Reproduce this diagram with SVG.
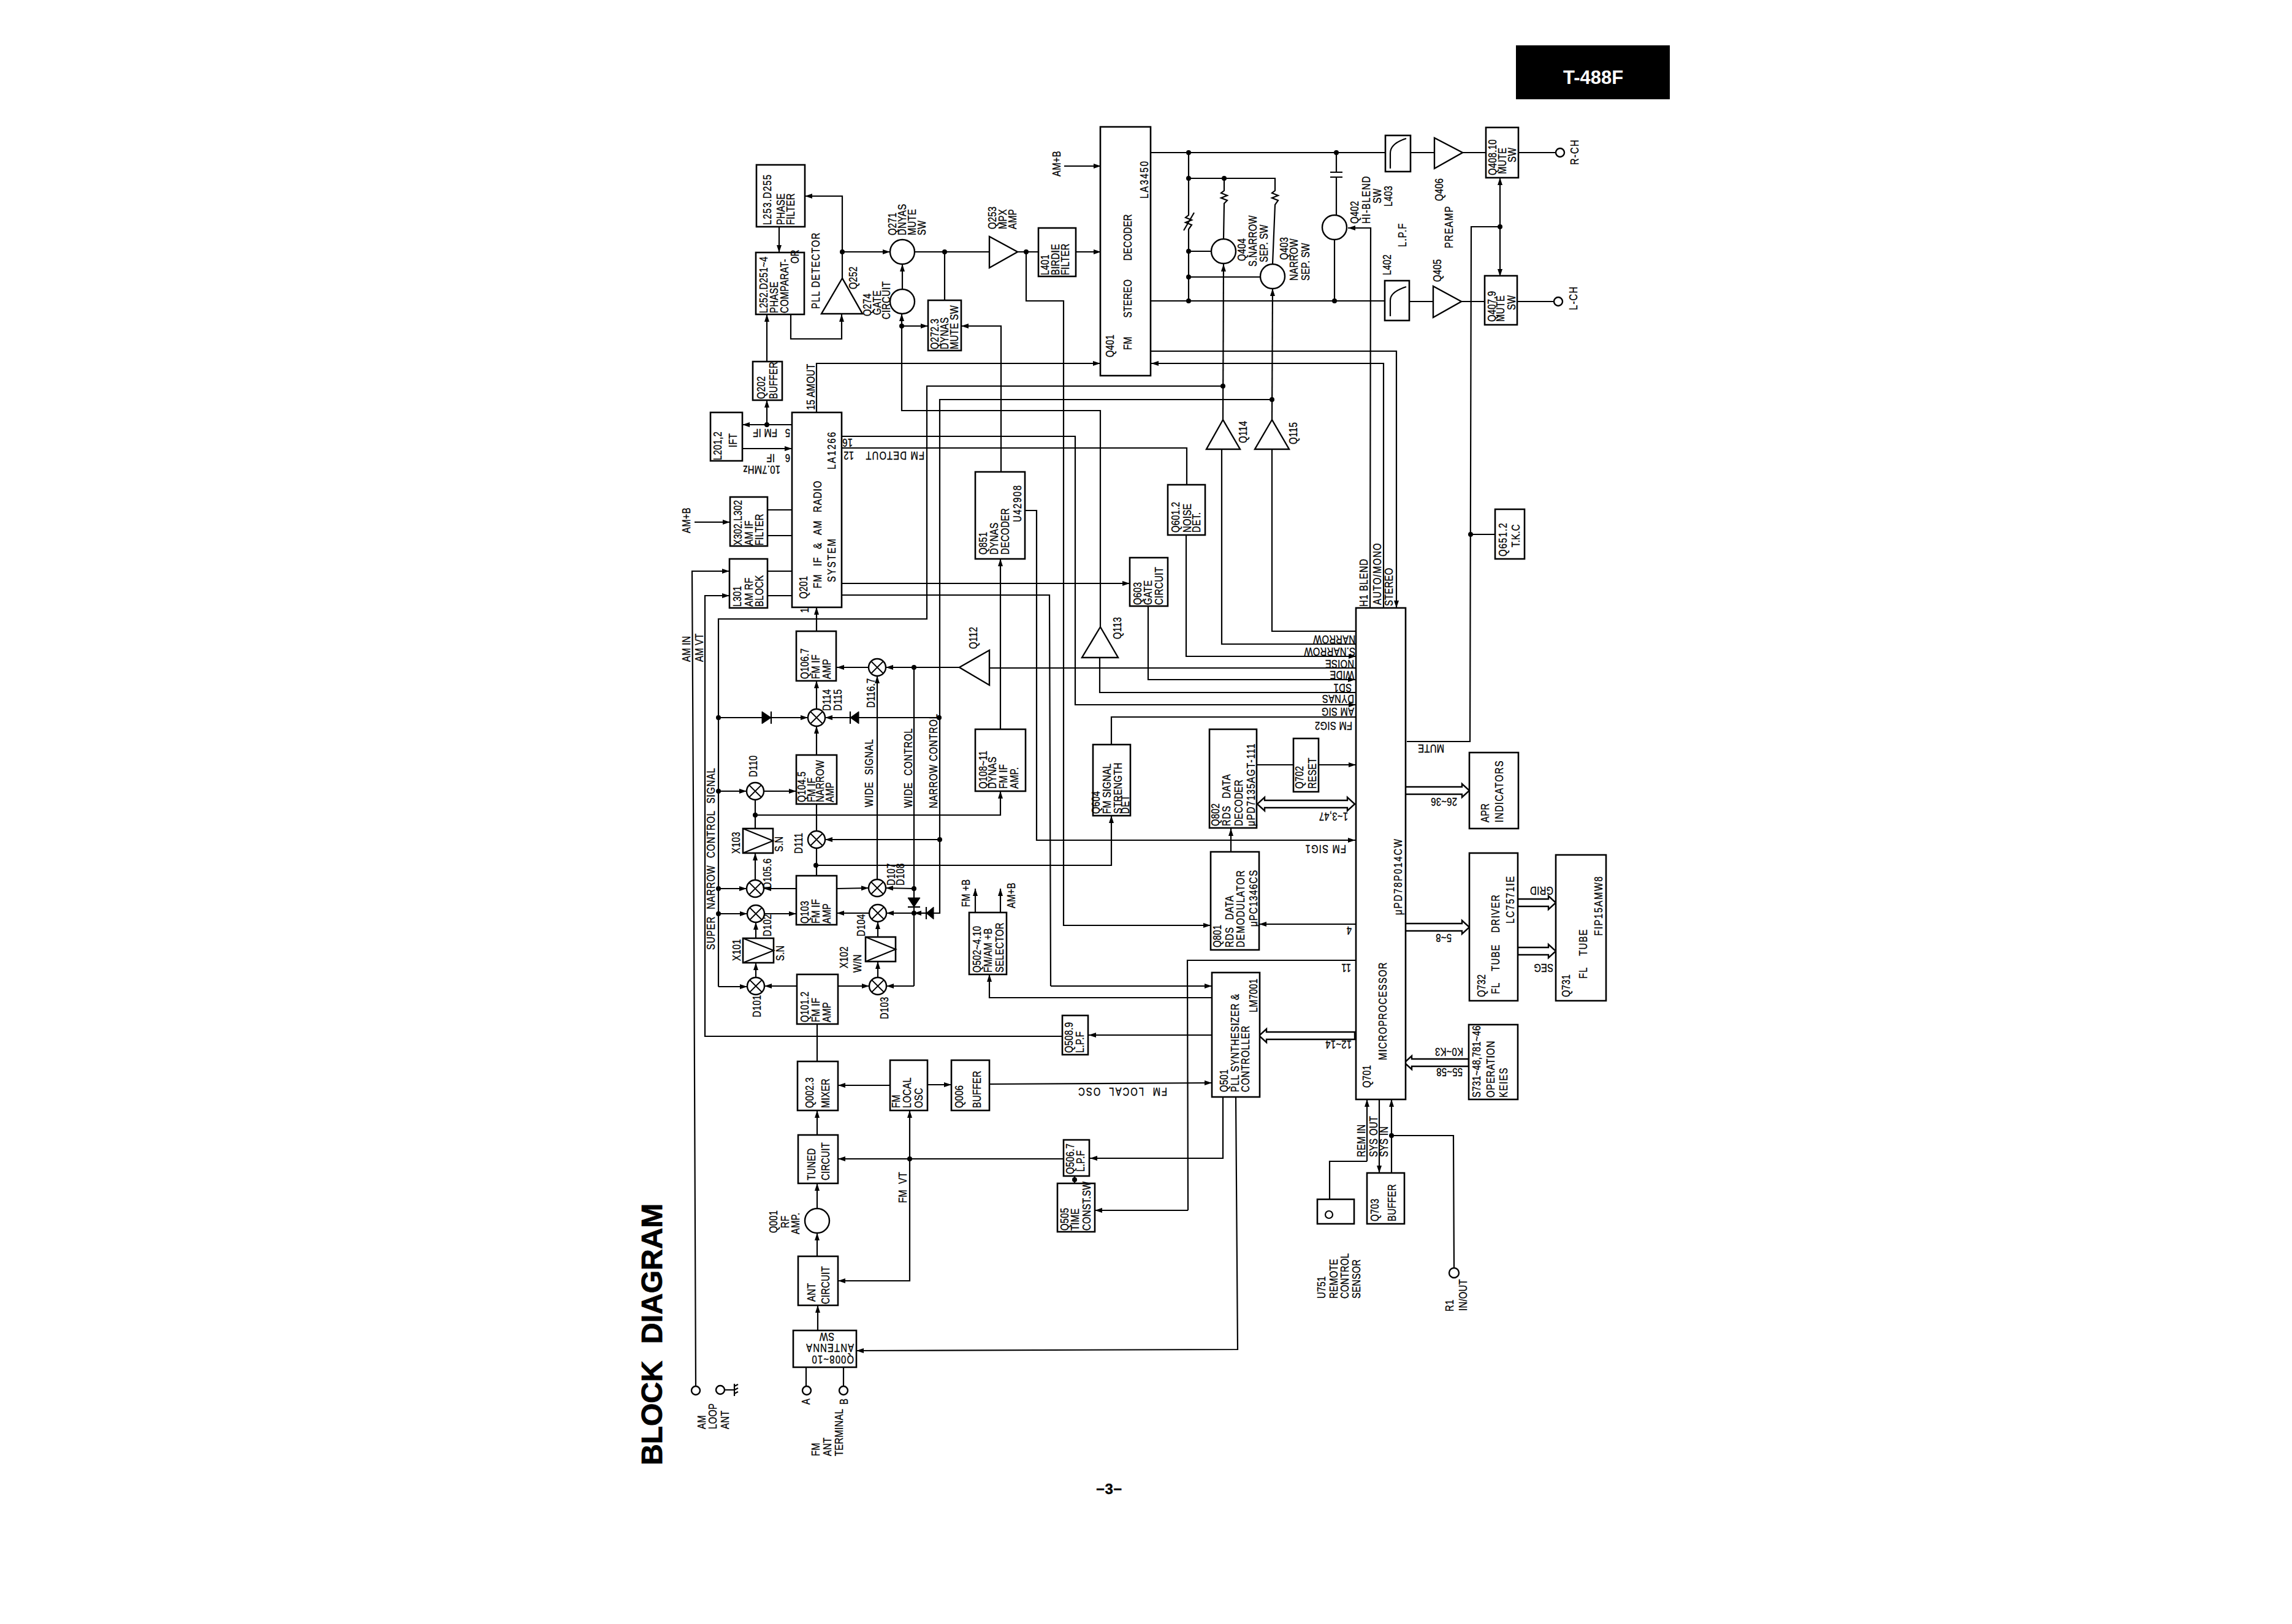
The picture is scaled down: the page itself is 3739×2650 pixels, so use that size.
<svg xmlns="http://www.w3.org/2000/svg" width="3739" height="2650" viewBox="0 0 3739 2650">
<style>
text{font-family:"Liberation Sans",Arial,sans-serif;font-size:18px;letter-spacing:.4px;fill:#000;stroke:#000;stroke-width:.35}
.b{fill:#fff;stroke:#000;stroke-width:2.6}
.o{fill:none;stroke:#000;stroke-width:2.2}
.c{fill:none;stroke:#000;stroke-width:2.2}
.m{marker-end:url(#a)}
.h{fill:#fff;stroke:#000;stroke-width:2.4}
.d{fill:#000}
.f{fill:#000;stroke:#000;stroke-width:1}
</style>
<defs>
<marker id="a" markerUnits="userSpaceOnUse" markerWidth="14" markerHeight="10" refX="12" refY="4" orient="auto"><path d="M0 0L12 4L0 8z" fill="#000"/></marker>
<g id="xc"><circle r="14" fill="#fff" stroke="#000" stroke-width="2.4"/><path d="M-10-10L10 10M-10 10L10-10" stroke="#000" stroke-width="1.8"/></g>
</defs>
<rect width="3739" height="2650" fill="#fff"/>
<g id="connectors">
<polyline class="c m" points="1374,454 1374,320 1313,320"/>
<polyline class="c m" points="1374,411 1452,411"/>
<polyline class="c m" points="1271,370 1271,412"/>
<polyline class="c m" points="1290,513 1290,553 1373,553 1373,513"/>
<polyline class="c m" points="1251,590 1251,513"/>
<polyline class="c m" points="1251,693 1251,653"/>
<polyline class="c m" points="1292,693 1211,693"/>
<polyline class="c m" points="1211,732 1292,732"/>
<polyline class="c m" points="1332,673 1332,593 1795,593"/>
<polyline class="c" points="1492,411 1614,411"/>
<polyline class="c" points="1541,411 1541,490"/>
<polyline class="c" points="1660,411 1694,411"/>
<polyline class="c m" points="1755,411 1796,411"/>
<polyline class="c m" points="1674,411 1674,491 1735,491 1735,1510 1975,1510"/>
<polyline class="c m" points="1472,472 1472,431"/>
<polyline class="c m" points="1471,532 1471,512"/>
<polyline class="c m" points="1471,532 1514,532"/>
<polyline class="c" points="1471,532 1471,670 1795,670 1795,1023"/>
<polyline class="c m" points="1633,770 1633,532 1568,532"/>
<polyline class="c m" points="1672,833 1691,833 1691,1371 2211,1371"/>
<polyline class="c m" points="1736,271 1796,271"/>
<polyline class="c" points="1995,630 1512,630 1512,1010 1172,1010 1172,1610"/>
<polyline class="c" points="2075,652 1533,652 1533,1490 1523,1490"/>
<polyline class="c m" points="1373,712 1754,712 1754,1150 2212,1150"/>
<polyline class="c" points="1373,731 1936,731 1936,791"/>
<polyline class="c m" points="1133,852 1191,852"/>
<polyline class="c" points="1252,832 1292,832"/>
<polyline class="c" points="1252,874 1292,874"/>
<polyline class="c" points="1252,932 1292,932"/>
<polyline class="c" points="1252,972 1292,972"/>
<polyline class="c m" points="1135,2262 1132,1500 1129,932 1190,932"/>
<polyline class="c m" points="1733,1691 1150,1691 1150,972 1190,972"/>
<polyline class="c m" points="1373,952 1843,952"/>
<polyline class="c m" points="1873,989 1873,1109 2211,1109"/>
<polyline class="c m" points="1935,873 1935,1071 2212,1071"/>
<polyline class="c" points="1373,971 1712,971 1714,1609"/>
<polyline class="c m" points="1714,1609 1977,1609"/>
<polyline class="c" points="2213,1030 2075,1030 2075,733"/>
<polyline class="c" points="2213,1051 1993,1051 1993,733"/>
<polyline class="c" points="2213,1090 1615,1090"/>
<polyline class="c" points="1794,1073 1794,1130 2213,1130"/>
<polyline class="c" points="2213,1170 1813,1170 1813,1215"/>
<polyline class="c m" points="2235,992 2236,372 2199,372"/>
<polyline class="c m" points="2257,992 2257,593 1878,593"/>
<polyline class="c m" points="1878,573 2278,573 2278,992"/>
<polyline class="c" points="2295,1210 2398,1210 2400,370 2447,370"/>
<polyline class="c m" points="2447,370 2447,290"/>
<polyline class="c m" points="2447,370 2447,451"/>
<polyline class="c" points="2399,872 2439,872"/>
<polyline class="c" points="1878,249 2260,249"/>
<polyline class="c" points="1878,491 2259,491"/>
<polyline class="c" points="1939,249 1939,351 1934,355 1944,359 1934,363 1944,367 1939,374 1939,491"/>
<path class="c" d="M1931 376L1948 347"/>
<polyline class="c" points="1939,291 2080,291 2080,311 2075,315 2085,319 2075,323 2085,327 2080,334 2076,431"/>
<polyline class="c" points="1997,291 1997,311 1992,315 2002,319 1992,323 2002,327 1997,332 1996,390"/>
<polyline class="c" points="1939,410 1976,410"/>
<polyline class="c" points="1939,452 2056,452"/>
<polyline class="c m" points="1995,685 1996,431"/>
<polyline class="c m" points="2075,685 2076,471"/>
<path class="c" d="M2180 249V281M2180 289V351M2170 281H2190M2170 289H2190M2177 391V491"/>
<polyline class="c" points="2301,249 2340,249"/>
<polyline class="c" points="2386,249 2424,249"/>
<polyline class="c" points="2299,492 2338,492"/>
<polyline class="c" points="2384,492 2422,492"/>
<polyline class="c" points="2477,249 2538,249"/>
<polyline class="c" points="2475,492 2535,492"/>
<polyline class="c m" points="1332,1030 1332,991"/>
<polyline class="c m" points="1332,1157 1332,1111"/>
<polyline class="c m" points="1332,1232 1332,1185"/>
<polyline class="c m" points="1417,1089 1365,1089"/>
<polyline class="c m" points="1565,1089 1445,1089"/>
<polyline class="c" points="1491,1089 1491,1465"/>
<polyline class="c" points="1491,1480 1491,1609"/>
<polyline class="c m" points="1491,1609 1446,1609"/>
<polyline class="c m" points="1431,1435 1431,1103"/>
<polyline class="c m" points="1172,1171 1318,1171"/>
<polyline class="c m" points="1532,1171 1346,1171"/>
<polyline class="c m" points="1632,1190 1632,912"/>
<polyline class="c m" points="1232,1330 1632,1330 1632,1291"/>
<polyline class="c m" points="1172,1291 1218,1291"/>
<polyline class="c m" points="1246,1291 1299,1291"/>
<polyline class="c" points="1232,1352 1232,1305"/>
<polyline class="c m" points="1232,1436 1232,1392"/>
<polyline class="c m" points="1172,1450 1218,1450"/>
<polyline class="c m" points="1299,1450 1246,1450"/>
<polyline class="c m" points="1172,1491 1219,1491"/>
<polyline class="c m" points="1247,1491 1299,1491"/>
<polyline class="c m" points="1233,1531 1233,1505"/>
<polyline class="c m" points="1233,1595 1233,1571"/>
<polyline class="c m" points="1172,1610 1219,1610"/>
<polyline class="c m" points="1299,1609 1247,1609"/>
<polyline class="c m" points="1365,1450 1417,1449"/>
<polyline class="c m" points="1491,1450 1445,1449"/>
<polyline class="c m" points="1418,1490 1365,1490"/>
<polyline class="c m" points="1491,1490 1446,1490"/>
<polyline class="c m" points="1511,1490 1491,1490"/>
<polyline class="c m" points="1432,1529 1432,1504"/>
<polyline class="c m" points="1432,1595 1432,1569"/>
<polyline class="c m" points="1367,1609 1418,1609"/>
<polyline class="c" points="1332,1312 1332,1356"/>
<polyline class="c" points="1332,1384 1332,1429"/>
<polyline class="c m" points="1533,1370 1346,1370"/>
<polyline class="c m" points="1331,1412 1813,1412 1813,1331"/>
<polyline class="c m" points="1591,1489 1591,1450"/>
<polyline class="c m" points="1632,1489 1632,1450"/>
<polyline class="c m" points="1977,1628 1614,1628 1614,1590"/>
<polyline class="c m" points="2212,1508 2054,1508"/>
<polyline class="c m" points="2008,1390 2008,1352"/>
<polyline class="c" points="2050,1248 2111,1248"/>
<polyline class="c m" points="2152,1248 2212,1248"/>
<polyline class="c" points="2212,1567 1937,1567 1938,1975"/>
<polyline class="c m" points="1938,1975 1786,1975"/>
<polyline class="c m" points="1977,1689 1776,1689"/>
<polyline class="c" points="1333,1671 1333,1732"/>
<polyline class="c m" points="1452,1771 1367,1771"/>
<polyline class="c m" points="1513,1770 1552,1770"/>
<polyline class="c m" points="1614,1769 1977,1767"/>
<polyline class="c m" points="1333,1852 1333,1812"/>
<polyline class="c m" points="1333,1972 1333,1931"/>
<polyline class="c m" points="1333,2050 1333,2012"/>
<polyline class="c m" points="1334,2171 1334,2130"/>
<polyline class="c m" points="1995,1790 1995,1890 1778,1890"/>
<polyline class="c m" points="1735,1891 1367,1891"/>
<polyline class="c m" points="1484,1891 1484,1812"/>
<polyline class="c m" points="1484,1891 1484,2090 1367,2090"/>
<polyline class="c" points="1753,1919 1753,1931"/>
<polyline class="c m" points="2016,1790 2019,2202 1397,2204"/>
<polyline class="c" points="1315,2231 1315,2262"/>
<polyline class="c" points="1376,2231 1376,2262"/>
<path class="c" d="M1182 2268H1198M1198 2258V2278M1198 2262l6 -3M1198 2268l6 -3M1198 2274l6 -3"/>
<polyline class="c m" points="2230,1895 2230,1794"/>
<polyline class="c" points="2230,1895 2169,1895 2169,1957"/>
<polyline class="c m" points="2250,1794 2250,1914"/>
<polyline class="c m" points="2270,1914 2270,1794"/>
<polyline class="c" points="2270,1853 2371,1853 2372,2069"/>
<polygon class="h" points="2292,1284 2385,1284 2385,1279 2397,1290 2385,1301 2385,1296 2292,1296"/>
<polygon class="h" points="2292,1507 2385,1507 2385,1502 2397,1513 2385,1524 2385,1519 2292,1519"/>
<polygon class="h" points="2476,1467 2526,1467 2526,1462 2538,1473 2526,1484 2526,1479 2476,1479"/>
<polygon class="h" points="2476,1546 2526,1546 2526,1541 2538,1552 2526,1563 2526,1558 2476,1558"/>
<polygon class="h" points="2210,1684 2066,1684 2066,1679 2054,1690 2066,1701 2066,1696 2210,1696"/>
<polygon class="h" points="2396,1728 2303,1728 2303,1723 2291,1734 2303,1745 2303,1740 2396,1740"/>
<polygon class="h" points="2063,1306 2198,1306 2198,1301 2210,1312 2198,1323 2198,1318 2063,1318 2063,1323 2051,1312 2063,1301"/>
<g class="d">
<circle cx="1374" cy="411" r="4"/><circle cx="1541" cy="411" r="4"/><circle cx="1674" cy="411" r="4"/><circle cx="1471" cy="532" r="4"/><circle cx="1251" cy="693" r="4"/>
<circle cx="1995" cy="630" r="4"/><circle cx="2075" cy="652" r="4"/><circle cx="1939" cy="249" r="4"/><circle cx="2180" cy="249" r="4"/><circle cx="1939" cy="291" r="4"/><circle cx="1997" cy="291" r="4"/><circle cx="1939" cy="410" r="4"/><circle cx="1939" cy="452" r="4"/><circle cx="1939" cy="491" r="4"/><circle cx="2177" cy="491" r="4"/><circle cx="2447" cy="370" r="4"/><circle cx="2399" cy="872" r="4"/>
<circle cx="1491" cy="1089" r="4"/><circle cx="1172" cy="1171" r="4"/><circle cx="1532" cy="1171" r="4"/><circle cx="1172" cy="1291" r="4"/><circle cx="1232" cy="1330" r="4"/><circle cx="1533" cy="1370" r="4"/><circle cx="1331" cy="1412" r="4"/><circle cx="1172" cy="1450" r="4"/><circle cx="1172" cy="1491" r="4"/><circle cx="1491" cy="1450" r="4"/><circle cx="1491" cy="1490" r="4"/><circle cx="1484" cy="1891" r="4"/><circle cx="1753" cy="1925" r="4"/><circle cx="2270" cy="1853" r="4"/>
</g>
<polygon class="f" points="1243,1161 1258,1171 1243,1181"/><path class="c" d="M1258 1161V1181"/>
<polygon class="f" points="1401,1161 1387,1171 1401,1181"/><path class="c" d="M1387 1161V1181"/>
<polygon class="f" points="1481,1465 1501,1465 1491,1480"/><path class="c" d="M1481 1480H1501"/>
<polygon class="f" points="1523,1480 1523,1500 1511,1490"/><path class="c" d="M1511 1480V1500"/>
</g>
<g id="tag"><rect x="2473" y="74" width="251" height="88" fill="#000"/><text transform="translate(2550,137)" style="font-size:31px;font-weight:700;fill:#fff;stroke:none;letter-spacing:0">T-488F</text></g>
<g id="title"><text transform="translate(1080,2391)rotate(-90)" style="font-size:48px;font-weight:700;stroke-width:.8;word-spacing:14px;letter-spacing:0">BLOCK DIAGRAM</text></g>
<g id="page"><text transform="translate(1788,2438)" style="font-size:24px;font-weight:700">−3−</text></g>
<g id="L253"><rect class="b" x="1234" y="269" width="79" height="101"/><text transform="translate(1258,367)rotate(-90)scale(.82,1)" style="letter-spacing:1.5px">L253.D255</text><text transform="translate(1280,367)rotate(-90)scale(.82,1)">PHASE</text><text transform="translate(1296,367)rotate(-90)scale(.82,1)">FILTER</text></g>
<g id="L252"><rect class="b" x="1233" y="412" width="79" height="101"/><text transform="translate(1252,511)rotate(-90)scale(.82,1)">L252.D251~4</text><text transform="translate(1269,511)rotate(-90)scale(.82,1)">PHASE</text><text transform="translate(1286,511)rotate(-90)scale(.82,1)">COMPARAT-</text><text transform="translate(1303,430)rotate(-90)scale(.82,1)">OR</text></g>
<g id="Q252"><polygon class="h" points="1374,454 1340,512 1407,512"/><text transform="translate(1337,504)rotate(-90)scale(.82,1)" style="letter-spacing:1.5px">PLL DETECTOR</text><text transform="translate(1398,472)rotate(-90)scale(.82,1)">Q252</text></g>
<g id="Q202"><rect class="b" x="1228" y="590" width="48" height="63"/><text transform="translate(1248,651)rotate(-90)scale(.82,1)">Q202</text><text transform="translate(1268,651)rotate(-90)scale(.82,1)">BUFFER</text></g>
<g id="L201"><rect class="b" x="1159" y="673" width="52" height="79"/><text transform="translate(1177,751)rotate(-90)scale(.82,1)">L201,2</text><text transform="translate(1202,730)rotate(-90)scale(.82,1)">IFT</text></g>
<g id="Q201"><rect class="b" x="1292" y="673" width="81" height="318"/><text transform="translate(1363,766)rotate(-90)scale(.82,1)" style="letter-spacing:2.5px">LA1266</text><text transform="translate(1317,977)rotate(-90)scale(.82,1)">Q201</text><text transform="translate(1340,960)rotate(-90)scale(.82,1)" style="word-spacing:9px;letter-spacing:1.4px">FM IF &amp; AM RADIO</text><text transform="translate(1363,950)rotate(-90)scale(.82,1)" style="letter-spacing:2.5px">SYSTEM</text></g>
<g id="pinlabels">
<text transform="translate(1329,669)rotate(-90)scale(.82,1)">15 AMOUT</text>
<text transform="translate(1268,700)rotate(180)scale(.82,1)">FM IF</text><text transform="translate(1289,700)rotate(180)scale(.82,1)">5</text><text transform="translate(1264,741)rotate(180)scale(.82,1)">IF</text><text transform="translate(1289,741)rotate(180)scale(.82,1)">6</text><text transform="translate(1273,760)rotate(180)scale(.82,1)">10.7MHz</text>
<text transform="translate(1391,716)rotate(180)scale(.82,1)">16</text><text transform="translate(1393,737)rotate(180)scale(.82,1)">12</text><text transform="translate(1508,737)rotate(180)scale(.82,1)" style="letter-spacing:1.5px">FM DETOUT</text>
<text transform="translate(1319,1000)rotate(-90)scale(.82,1)">1</text>
<text transform="translate(1730,288)rotate(-90)scale(.82,1)">AM+B</text><text transform="translate(1126,870)rotate(-90)scale(.82,1)">AM+B</text>
<text transform="translate(1126,1080)rotate(-90)scale(.82,1)">AM IN</text><text transform="translate(1147,1080)rotate(-90)scale(.82,1)">AM VT</text>
<text transform="translate(1166,1550)rotate(-90)scale(.82,1)" style="word-spacing:8px;letter-spacing:1px">SUPER NARROW CONTROL SIGNAL</text>
<text transform="translate(1424,1317)rotate(-90)scale(.82,1)" style="word-spacing:7px;letter-spacing:1px">WIDE SIGNAL</text><text transform="translate(1488,1318)rotate(-90)scale(.82,1)" style="word-spacing:7px;letter-spacing:1px">WIDE CONTROL</text><text transform="translate(1529,1319)rotate(-90)scale(.82,1)" style="letter-spacing:1px">NARROW CONTROL</text>
<text transform="translate(2211,1037)rotate(180)scale(.82,1)">NARROW</text><text transform="translate(2211,1057)rotate(180)scale(.82,1)">S.NARROW</text><text transform="translate(2209,1077)rotate(180)scale(.82,1)">NOISE</text><text transform="translate(2209,1095)rotate(180)scale(.82,1)">WIDE</text><text transform="translate(2205,1116)rotate(180)scale(.82,1)">SD1</text><text transform="translate(2209,1134)rotate(180)scale(.82,1)">DYNAS</text><text transform="translate(2209,1155)rotate(180)scale(.82,1)">AM SIG</text><text transform="translate(2206,1178)rotate(180)scale(.82,1)">FM SIG2</text>
<text transform="translate(2356,1215)rotate(180)scale(.82,1)">MUTE</text>
<text transform="translate(2196,1379)rotate(180)scale(.82,1)" style="letter-spacing:1.5px">FM SIG1</text><text transform="translate(2199,1326)rotate(180)scale(.82,1)">1~3,47</text><text transform="translate(2205,1512)rotate(180)scale(.82,1)">4</text><text transform="translate(2204,1573)rotate(180)scale(.82,1)">11</text><text transform="translate(2205,1698)rotate(180)scale(.82,1)">12~14</text>
<text transform="translate(2377,1302)rotate(180)scale(.82,1)">26~36</text><text transform="translate(2368,1524)rotate(180)scale(.82,1)">5~8</text><text transform="translate(2534,1447)rotate(180)scale(.82,1)">GRID</text><text transform="translate(2534,1573)rotate(180)scale(.82,1)">SEG</text><text transform="translate(2387,1710)rotate(180)scale(.82,1)">K0~K3</text><text transform="translate(2386,1743)rotate(180)scale(.82,1)">55~58</text>
<text transform="translate(2231,990)rotate(-90)scale(.82,1)" style="letter-spacing:1px">H1 BLEND</text><text transform="translate(2253,987)rotate(-90)scale(.82,1)" style="letter-spacing:1.5px">AUTO/MONO</text><text transform="translate(2272,989)rotate(-90)scale(.82,1)">STEREO</text>
<text transform="translate(1904,1775)rotate(180)scale(.82,1)" style="letter-spacing:2.5px;word-spacing:8px">FM LOCAL OSC</text><text transform="translate(1479,1963)rotate(-90)scale(.82,1)" style="word-spacing:6px">FM VT</text>
<text transform="translate(2227,1888)rotate(-90)scale(.82,1)">REM IN</text><text transform="translate(2247,1888)rotate(-90)scale(.82,1)">SYS OUT</text><text transform="translate(2264,1888)rotate(-90)scale(.82,1)">SYS IN</text>
<text transform="translate(1582,1480)rotate(-90)scale(.82,1)">FM +B</text><text transform="translate(1656,1482)rotate(-90)scale(.82,1)">AM+B</text>
<text transform="translate(2294,403)rotate(-90)scale(.82,1)" style="letter-spacing:1.5px">L.P.F</text><text transform="translate(2370,405)rotate(-90)scale(.82,1)" style="letter-spacing:1.5px">PREAMP</text>
</g>
<g id="Q401"><rect class="b" x="1795" y="207" width="82" height="406"/><text transform="translate(1873,324)rotate(-90)scale(.82,1)" style="letter-spacing:2.5px">LA3450</text><text transform="translate(1846,571)rotate(-90)scale(.82,1)" style="word-spacing:32px">FM STEREO DECODER</text><text transform="translate(1817,583)rotate(-90)scale(.82,1)">Q401</text></g>
<g id="Q271"><circle class="h" cx="1472" cy="411" r="20"/><text transform="translate(1462,384)rotate(-90)scale(.82,1)">Q271</text><text transform="translate(1478,384)rotate(-90)scale(.82,1)">DNYAS</text><text transform="translate(1494,384)rotate(-90)scale(.82,1)">MUTE</text><text transform="translate(1510,384)rotate(-90)scale(.82,1)">SW</text></g>
<g id="Q274"><circle class="h" cx="1472" cy="492" r="20"/><text transform="translate(1421,516)rotate(-90)scale(.82,1)">Q274</text><text transform="translate(1437,514)rotate(-90)scale(.82,1)">GATE</text><text transform="translate(1452,521)rotate(-90)scale(.82,1)">CIRCUIT</text></g>
<g id="Q253"><polygon class="h" points="1614,386 1614,437 1660,411"/><text transform="translate(1625,374)rotate(-90)scale(.82,1)">Q253</text><text transform="translate(1642,374)rotate(-90)scale(.82,1)">MPX</text><text transform="translate(1658,374)rotate(-90)scale(.82,1)">AMP</text></g>
<g id="L401"><rect class="b" x="1694" y="372" width="61" height="79"/><text transform="translate(1711,449)rotate(-90)scale(.82,1)">L401</text><text transform="translate(1728,449)rotate(-90)scale(.82,1)">BIRDIE</text><text transform="translate(1744,449)rotate(-90)scale(.82,1)">FILTER</text></g>
<g id="Q272"><rect class="b" x="1514" y="490" width="54" height="82"/><text transform="translate(1531,570)rotate(-90)scale(.82,1)">Q272.3</text><text transform="translate(1547,570)rotate(-90)scale(.82,1)">DYNAS</text><text transform="translate(1563,570)rotate(-90)scale(.82,1)">MUTE SW</text></g>
<g id="Q851"><rect class="b" x="1591" y="770" width="81" height="142"/><text transform="translate(1610,905)rotate(-90)scale(.82,1)">Q851</text><text transform="translate(1628,905)rotate(-90)scale(.82,1)">DYNAS</text><text transform="translate(1646,905)rotate(-90)scale(.82,1)">DECODER</text><text transform="translate(1666,852)rotate(-90)scale(.82,1)" style="letter-spacing:2px">U42908</text></g>
<g id="Q113"><polygon class="h" points="1795,1023 1765,1073 1824,1073"/><text transform="translate(1829,1043)rotate(-90)scale(.82,1)">Q113</text></g>
<g id="Q112"><polygon class="h" points="1565,1089 1614,1061 1614,1118"/><text transform="translate(1594,1059)rotate(-90)scale(.82,1)">Q112</text></g>
<g id="Q603"><rect class="b" x="1843" y="910" width="62" height="79"/><text transform="translate(1862,987)rotate(-90)scale(.82,1)">Q603</text><text transform="translate(1879,987)rotate(-90)scale(.82,1)">GATE</text><text transform="translate(1897,987)rotate(-90)scale(.82,1)">CIRCUIT</text></g>
<g id="Q601"><rect class="b" x="1905" y="791" width="61" height="82"/><text transform="translate(1924,869)rotate(-90)scale(.82,1)">Q601.2</text><text transform="translate(1943,869)rotate(-90)scale(.82,1)">NOISE</text><text transform="translate(1958,869)rotate(-90)scale(.82,1)">DET.</text></g>
<g id="Q114"><polygon class="h" points="1995,685 1968,733 2023,733"/><text transform="translate(2034,723)rotate(-90)scale(.82,1)">Q114</text></g>
<g id="Q115"><polygon class="h" points="2075,685 2047,733 2103,733"/><text transform="translate(2116,725)rotate(-90)scale(.82,1)">Q115</text></g>
<g id="Q404"><circle class="h" cx="1996" cy="410" r="20"/><text transform="translate(2032,426)rotate(-90)scale(.82,1)">Q404</text><text transform="translate(2050,435)rotate(-90)scale(.82,1)">S.NARROW</text><text transform="translate(2068,428)rotate(-90)scale(.82,1)">SEP. SW</text></g>
<g id="Q403"><circle class="h" cx="2076" cy="451" r="20"/><text transform="translate(2101,424)rotate(-90)scale(.82,1)">Q403</text><text transform="translate(2117,458)rotate(-90)scale(.82,1)">NARROW</text><text transform="translate(2136,458)rotate(-90)scale(.82,1)">SEP. SW</text></g>
<g id="Q402"><circle class="h" cx="2177" cy="371" r="20"/><text transform="translate(2216,365)rotate(-90)scale(.82,1)">Q402</text><text transform="translate(2235,365)rotate(-90)scale(.82,1)" style="letter-spacing:1.5px">HI-BLEND</text><text transform="translate(2253,332)rotate(-90)scale(.82,1)">SW</text></g>
<g id="L403"><rect class="b" x="2260" y="221" width="41" height="59"/><path class="o" d="M2268 275V250Q2268 234 2294 226"/><text transform="translate(2271,337)rotate(-90)scale(.82,1)">L403</text></g>
<g id="L402"><rect class="b" x="2259" y="458" width="40" height="65"/><path class="o" d="M2268 516V490Q2268 476 2294 468"/><text transform="translate(2269,449)rotate(-90)scale(.82,1)">L402</text></g>
<g id="Q406"><polygon class="h" points="2340,225 2340,275 2386,249"/><text transform="translate(2354,328)rotate(-90)scale(.82,1)">Q406</text></g>
<g id="Q405"><polygon class="h" points="2338,467 2338,518 2384,492"/><text transform="translate(2351,460)rotate(-90)scale(.82,1)">Q405</text></g>
<g id="Q408"><rect class="b" x="2424" y="208" width="53" height="82"/><text transform="translate(2441,286)rotate(-90)scale(.82,1)">Q408.10</text><text transform="translate(2457,284)rotate(-90)scale(.82,1)">MUTE</text><text transform="translate(2473,265)rotate(-90)scale(.82,1)">SW</text></g>
<g id="Q407"><rect class="b" x="2422" y="450" width="53" height="80"/><text transform="translate(2440,525)rotate(-90)scale(.82,1)">Q407,9</text><text transform="translate(2454,525)rotate(-90)scale(.82,1)">MUTE</text><text transform="translate(2472,506)rotate(-90)scale(.82,1)">SW</text></g>
<g id="RCH"><circle class="h" cx="2545" cy="249" r="7"/><text transform="translate(2575,269)rotate(-90)scale(.82,1)" style="letter-spacing:1.5px">R-CH</text></g>
<g id="LCH"><circle class="h" cx="2542" cy="492" r="7"/><text transform="translate(2573,506)rotate(-90)scale(.82,1)" style="letter-spacing:1.5px">L-CH</text></g>
<g id="Q651"><rect class="b" x="2439" y="831" width="48" height="81"/><text transform="translate(2458,908)rotate(-90)scale(.82,1)" style="letter-spacing:1.5px">Q651.2</text><text transform="translate(2479,893)rotate(-90)scale(.82,1)">T.K.C</text></g>
<g id="X302"><rect class="b" x="1191" y="811" width="61" height="80"/><text transform="translate(1210,890)rotate(-90)scale(.82,1)">X302.L302</text><text transform="translate(1228,890)rotate(-90)scale(.82,1)">AM IF</text><text transform="translate(1245,890)rotate(-90)scale(.82,1)">FILTER</text></g>
<g id="L301"><rect class="b" x="1190" y="912" width="62" height="80"/><text transform="translate(1209,990)rotate(-90)scale(.82,1)">L301</text><text transform="translate(1228,990)rotate(-90)scale(.82,1)">AM RF</text><text transform="translate(1245,990)rotate(-90)scale(.82,1)">BLOCK</text></g>
<g id="Q106"><rect class="b" x="1299" y="1030" width="65" height="81"/><text transform="translate(1319,1108)rotate(-90)scale(.82,1)">Q106.7</text><text transform="translate(1337,1108)rotate(-90)scale(.82,1)">FM IF</text><text transform="translate(1355,1108)rotate(-90)scale(.82,1)">AMP</text></g>
<g id="D116"><use href="#xc" x="1431" y="1089"/><text transform="translate(1427,1155)rotate(-90)scale(.82,1)">D116.7</text></g>
<g id="D114"><use href="#xc" x="1332" y="1171"/><text transform="translate(1355,1160)rotate(-90)scale(.82,1)">D114</text><text transform="translate(1373,1160)rotate(-90)scale(.82,1)">D115</text></g>
<g id="Q104"><rect class="b" x="1299" y="1232" width="66" height="80"/><text transform="translate(1314,1309)rotate(-90)scale(.82,1)">Q104.5</text><text transform="translate(1330,1309)rotate(-90)scale(.82,1)">FM IF</text><text transform="translate(1344,1309)rotate(-90)scale(.82,1)">NARROW</text><text transform="translate(1360,1309)rotate(-90)scale(.82,1)">AMP</text></g>
<g id="Q108"><rect class="b" x="1591" y="1190" width="82" height="101"/><text transform="translate(1610,1287)rotate(-90)scale(.82,1)">Q108~11</text><text transform="translate(1625,1287)rotate(-90)scale(.82,1)">DYNAS</text><text transform="translate(1643,1287)rotate(-90)scale(.82,1)">FM IF</text><text transform="translate(1661,1287)rotate(-90)scale(.82,1)">AMP.</text></g>
<g id="D110"><use href="#xc" x="1232" y="1291"/><text transform="translate(1235,1268)rotate(-90)scale(.82,1)">D110</text></g>
<g id="X103"><rect class="b" x="1212" y="1352" width="49" height="40"/><path class="o" d="M1212 1352L1261 1372L1212 1392"/><text transform="translate(1207,1393)rotate(-90)scale(.82,1)">X103</text><text transform="translate(1277,1390)rotate(-90)scale(.82,1)">S.N</text></g>
<g id="D105"><use href="#xc" x="1232" y="1450"/><text transform="translate(1258,1450)rotate(-90)scale(.82,1)">D105.6</text></g>
<g id="Q103"><rect class="b" x="1299" y="1429" width="66" height="80"/><text transform="translate(1319,1507)rotate(-90)scale(.82,1)">Q103</text><text transform="translate(1337,1507)rotate(-90)scale(.82,1)">FM IF</text><text transform="translate(1355,1507)rotate(-90)scale(.82,1)">AMP</text></g>
<g id="D102"><use href="#xc" x="1233" y="1491"/><text transform="translate(1258,1528)rotate(-90)scale(.82,1)">D102</text></g>
<g id="X101"><rect class="b" x="1212" y="1531" width="50" height="40"/><path class="o" d="M1212 1531L1262 1551L1212 1571"/><text transform="translate(1208,1568)rotate(-90)scale(.82,1)">X101</text><text transform="translate(1279,1568)rotate(-90)scale(.82,1)">S.N</text></g>
<g id="D101"><use href="#xc" x="1233" y="1609"/><text transform="translate(1241,1660)rotate(-90)scale(.82,1)">D101</text></g>
<g id="Q101"><rect class="b" x="1300" y="1590" width="67" height="81"/><text transform="translate(1319,1668)rotate(-90)scale(.82,1)">Q101.2</text><text transform="translate(1337,1668)rotate(-90)scale(.82,1)">FM IF</text><text transform="translate(1355,1668)rotate(-90)scale(.82,1)">AMP</text></g>
<g id="D107"><use href="#xc" x="1431" y="1449"/><text transform="translate(1460,1445)rotate(-90)scale(.82,1)">D107</text><text transform="translate(1475,1445)rotate(-90)scale(.82,1)">D108</text></g>
<g id="D104"><use href="#xc" x="1432" y="1490"/><text transform="translate(1411,1528)rotate(-90)scale(.82,1)">D104</text></g>
<g id="X102"><rect class="b" x="1412" y="1529" width="49" height="40"/><path class="o" d="M1412 1529L1461 1549L1412 1569"/><text transform="translate(1383,1580)rotate(-90)scale(.82,1)">X102</text><text transform="translate(1405,1587)rotate(-90)scale(.82,1)">W/N</text></g>
<g id="D103"><use href="#xc" x="1432" y="1609"/><text transform="translate(1449,1663)rotate(-90)scale(.82,1)">D103</text></g>
<g id="D111"><use href="#xc" x="1332" y="1370"/><text transform="translate(1309,1393)rotate(-90)scale(.82,1)">D111</text></g>
<g id="Q604"><rect class="b" x="1783" y="1215" width="61" height="116"/><text transform="translate(1794,1328)rotate(-90)scale(.82,1)">Q604</text><text transform="translate(1812,1328)rotate(-90)scale(.82,1)">FM SIGNAL</text><text transform="translate(1830,1328)rotate(-90)scale(.82,1)">STRENGTH</text><text transform="translate(1842,1328)rotate(-90)scale(.82,1)">DET</text></g>
<g id="Q502"><rect class="b" x="1581" y="1489" width="61" height="101"/><text transform="translate(1600,1587)rotate(-90)scale(.82,1)">Q502~4.10</text><text transform="translate(1618,1587)rotate(-90)scale(.82,1)">FM/AM +B</text><text transform="translate(1637,1587)rotate(-90)scale(.82,1)">SELECTOR</text></g>
<g id="Q801"><rect class="b" x="1975" y="1390" width="79" height="160"/><text transform="translate(1992,1546)rotate(-90)scale(.82,1)">Q801</text><text transform="translate(2012,1546)rotate(-90)scale(.82,1)" style="word-spacing:8px;letter-spacing:1px">RDS DATA</text><text transform="translate(2030,1546)rotate(-90)scale(.82,1)" style="letter-spacing:1.5px">DEMODULATOR</text><text transform="translate(2051,1512)rotate(-90)scale(.82,1)" style="letter-spacing:1.5px">μPC1346CS</text></g>
<g id="Q802"><rect class="b" x="1973" y="1190" width="77" height="161"/><text transform="translate(1989,1348)rotate(-90)scale(.82,1)">Q802</text><text transform="translate(2007,1348)rotate(-90)scale(.82,1)" style="word-spacing:8px;letter-spacing:1px">RDS DATA</text><text transform="translate(2027,1348)rotate(-90)scale(.82,1)">DECODER</text><text transform="translate(2047,1348)rotate(-90)scale(.82,1)" style="letter-spacing:1.5px">μPD7135AGT-111</text></g>
<g id="Q702"><rect class="b" x="2110" y="1205" width="41" height="87"/><text transform="translate(2126,1287)rotate(-90)scale(.82,1)">Q702</text><text transform="translate(2147,1287)rotate(-90)scale(.82,1)">RESET</text></g>
<g id="Q701"><rect class="b" x="2212" y="992" width="81" height="802"/><text transform="translate(2236,1775)rotate(-90)scale(.82,1)">Q701</text><text transform="translate(2262,1730)rotate(-90)scale(.82,1)" style="letter-spacing:1.5px">MICROPROCESSOR</text><text transform="translate(2287,1493)rotate(-90)scale(.82,1)" style="letter-spacing:2.4px">μPD78P014CW</text></g>
<g id="APR"><rect class="b" x="2397" y="1228" width="80" height="124"/><text transform="translate(2429,1342)rotate(-90)scale(.82,1)">APR</text><text transform="translate(2452,1342)rotate(-90)scale(.82,1)" style="letter-spacing:1.5px">INDICATORS</text></g>
<g id="Q732"><rect class="b" x="2397" y="1392" width="79" height="241"/><text transform="translate(2423,1627)rotate(-90)scale(.82,1)">Q732</text><text transform="translate(2446,1622)rotate(-90)scale(.82,1)" style="word-spacing:16px;letter-spacing:1.5px">FL TUBE DRIVER</text><text transform="translate(2470,1507)rotate(-90)scale(.82,1)" style="letter-spacing:2px">LC7571IE</text></g>
<g id="Q731"><rect class="b" x="2538" y="1395" width="82" height="238"/><text transform="translate(2561,1627)rotate(-90)scale(.82,1)">Q731</text><text transform="translate(2589,1597)rotate(-90)scale(.82,1)" style="word-spacing:16px;letter-spacing:1.5px">FL TUBE</text><text transform="translate(2614,1527)rotate(-90)scale(.82,1)" style="letter-spacing:2px">FIP15AMW8</text></g>
<g id="Q501"><rect class="b" x="1977" y="1587" width="78" height="203"/><text transform="translate(2003,1782)rotate(-90)scale(.82,1)">Q501</text><text transform="translate(2021,1782)rotate(-90)scale(.82,1)" style="letter-spacing:1px">PLL SYNTHESIZER &amp;</text><text transform="translate(2038,1782)rotate(-90)scale(.82,1)" style="letter-spacing:1px">CONTROLLER</text><text transform="translate(2051,1652)rotate(-90)scale(.82,1)">LM7001</text></g>
<g id="Q508"><rect class="b" x="1733" y="1657" width="42" height="64"/><text transform="translate(1750,1718)rotate(-90)scale(.82,1)">Q508.9</text><text transform="translate(1768,1718)rotate(-90)scale(.82,1)">L.P.F</text></g>
<g id="Q002"><rect class="b" x="1301" y="1732" width="66" height="80"/><text transform="translate(1327,1808)rotate(-90)scale(.82,1)">Q002.3</text><text transform="translate(1353,1808)rotate(-90)scale(.82,1)">MIXER</text></g>
<g id="OSC"><rect class="b" x="1452" y="1730" width="61" height="82"/><text transform="translate(1468,1808)rotate(-90)scale(.82,1)">FM</text><text transform="translate(1486,1808)rotate(-90)scale(.82,1)">LOCAL</text><text transform="translate(1505,1808)rotate(-90)scale(.82,1)">OSC</text></g>
<g id="Q006"><rect class="b" x="1552" y="1730" width="62" height="82"/><text transform="translate(1571,1808)rotate(-90)scale(.82,1)">Q006</text><text transform="translate(1600,1808)rotate(-90)scale(.82,1)">BUFFER</text></g>
<g id="TUNED"><rect class="b" x="1302" y="1852" width="65" height="79"/><text transform="translate(1330,1926)rotate(-90)scale(.82,1)">TUNED</text><text transform="translate(1353,1926)rotate(-90)scale(.82,1)">CIRCUIT</text></g>
<g id="Q001"><circle class="h" cx="1333" cy="1992" r="20"/><text transform="translate(1268,2012)rotate(-90)scale(.82,1)">Q001</text><text transform="translate(1287,2004)rotate(-90)scale(.82,1)">RF</text><text transform="translate(1304,2014)rotate(-90)scale(.82,1)">AMP.</text></g>
<g id="ANT"><rect class="b" x="1302" y="2050" width="65" height="80"/><text transform="translate(1330,2124)rotate(-90)scale(.82,1)">ANT</text><text transform="translate(1353,2128)rotate(-90)scale(.82,1)">CIRCUIT</text></g>
<g id="Q008"><rect class="b" x="1294" y="2171" width="103" height="60"/><text transform="translate(1393,2212)rotate(180)scale(.82,1)" style="letter-spacing:1.5px">Q008~10</text><text transform="translate(1393,2193)rotate(180)scale(.82,1)" style="letter-spacing:1.5px">ANTENNA</text><text transform="translate(1361,2175)rotate(180)scale(.82,1)">SW</text></g>
<g id="Q506"><rect class="b" x="1735" y="1860" width="42" height="59"/><text transform="translate(1752,1916)rotate(-90)scale(.82,1)">Q506.7</text><text transform="translate(1769,1912)rotate(-90)scale(.82,1)">L.P.F</text></g>
<g id="Q505"><rect class="b" x="1725" y="1931" width="61" height="79"/><text transform="translate(1743,2008)rotate(-90)scale(.82,1)">Q505</text><text transform="translate(1760,2008)rotate(-90)scale(.82,1)">TIME</text><text transform="translate(1779,2008)rotate(-90)scale(.82,1)">CONST.SW</text></g>
<g id="AMLOOP"><circle class="h" cx="1135" cy="2269" r="7"/><circle class="h" cx="1175" cy="2268" r="7"/><text transform="translate(1151,2332)rotate(-90)scale(.82,1)">AM</text><text transform="translate(1169,2332)rotate(-90)scale(.82,1)">LOOP</text><text transform="translate(1189,2332)rotate(-90)scale(.82,1)">ANT</text></g>
<g id="FMANT"><circle class="h" cx="1316" cy="2269" r="7"/><circle class="h" cx="1376" cy="2269" r="7"/><text transform="translate(1321,2292)rotate(-90)scale(.82,1)">A</text><text transform="translate(1383,2292)rotate(-90)scale(.82,1)">B</text><text transform="translate(1337,2376)rotate(-90)scale(.82,1)">FM</text><text transform="translate(1356,2376)rotate(-90)scale(.82,1)">ANT</text><text transform="translate(1375,2376)rotate(-90)scale(.82,1)">TERMINAL</text></g>
<g id="KEYS"><rect class="b" x="2396" y="1672" width="80" height="122"/><text transform="translate(2415,1791)rotate(-90)scale(.82,1)">S731~48,781~46</text><text transform="translate(2438,1791)rotate(-90)scale(.82,1)" style="letter-spacing:1px">OPERATION</text><text transform="translate(2459,1791)rotate(-90)scale(.82,1)" style="letter-spacing:1.5px">KEIES</text></g>
<g id="U751"><rect class="b" x="2149" y="1957" width="60" height="40"/><circle class="o" cx="2168" cy="1982" r="6"/><text transform="translate(2162,2119)rotate(-90)scale(.82,1)">U751</text><text transform="translate(2182,2119)rotate(-90)scale(.82,1)">REMOTE</text><text transform="translate(2200,2119)rotate(-90)scale(.82,1)">CONTROL</text><text transform="translate(2219,2119)rotate(-90)scale(.82,1)">SENSOR</text></g>
<g id="Q703"><rect class="b" x="2230" y="1914" width="61" height="83"/><text transform="translate(2249,1993)rotate(-90)scale(.82,1)">Q703</text><text transform="translate(2277,1993)rotate(-90)scale(.82,1)">BUFFER</text></g>
<g id="R1"><circle class="h" cx="2372" cy="2077" r="8"/><text transform="translate(2371,2140)rotate(-90)scale(.82,1)">R1</text><text transform="translate(2393,2139)rotate(-90)scale(.82,1)">IN/OUT</text></g>
</svg>
